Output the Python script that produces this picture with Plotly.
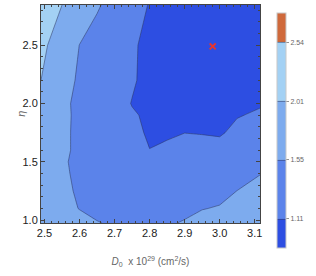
import numpy as np
import plotly.graph_objects as go

# grid coordinates
d0_values = [2.49, 2.55, 2.6, 2.65, 2.7, 2.75, 2.8, 2.85, 2.9, 2.95, 3.0, 3.05, 3.115]
eta_values = [0.975, 1.1, 1.25, 1.4, 1.5, 1.6, 1.75, 1.9, 2.0, 2.2, 2.5, 2.845]

# statistic on the grid (rows follow eta_values, columns follow d0_values)
row_0975 = [1.85, 1.76, 1.66, 1.57, 1.50, 1.46, 1.46, 1.51, 1.58, 1.65, 1.71, 1.77, 1.85]
row_1100 = [1.82, 1.66, 1.54, 1.45, 1.40, 1.37, 1.37, 1.40, 1.46, 1.54, 1.57, 1.66, 1.77]
row_1250 = [1.80, 1.64, 1.50, 1.42, 1.37, 1.33, 1.31, 1.31, 1.34, 1.40, 1.47, 1.553, 1.66]
row_1400 = [1.80, 1.61, 1.48, 1.41, 1.35, 1.30, 1.26, 1.25, 1.27, 1.31, 1.36, 1.44, 1.54]
row_1500 = [1.80, 1.59, 1.48, 1.40, 1.33, 1.26, 1.21, 1.21, 1.23, 1.27, 1.30, 1.36, 1.465]
row_1600 = [1.82, 1.61, 1.49, 1.40, 1.30, 1.21, 1.113, 1.15, 1.19, 1.22, 1.24, 1.29, 1.39]
row_1750 = [1.84, 1.62, 1.48, 1.38, 1.28, 1.17, 1.08, 1.08, 1.108, 1.096, 1.07, 1.20, 1.27]
row_1900 = [1.89, 1.63, 1.48, 1.36, 1.25, 1.135, 1.07, 1.04, 1.02, 1.03, 1.05, 1.09, 1.156]
row_2000 = [1.92, 1.63, 1.47, 1.35, 1.22, 1.10, 1.05, 1.01, 0.98, 0.96, 0.96, 1.00, 1.08]
row_2200 = [2.01, 1.70, 1.50, 1.38, 1.26, 1.14, 1.03, 0.98, 0.94, 0.91, 0.90, 0.91, 0.97]
row_2500 = [2.12, 1.80, 1.545, 1.41, 1.28, 1.15, 1.03, 0.97, 0.92, 0.88, 0.86, 0.87, 0.90]
row_2845 = [2.24, 2.01, 1.80, 1.59, 1.42, 1.26, 1.09, 1.00, 0.94, 0.90, 0.88, 0.88, 0.90]

# contour levels and colorbar labels
levels = [1.11, 1.55, 2.01, 2.54]
level_labels = ["1.11", "1.55", "2.01", "2.54"]

# best-fit point
best_d0 = [2.98]
best_eta = [2.49]

band_colors = ["#2d4ee2", "#5b83ea", "#7dabee", "#a3d1f4", "#cf693b"]

z = np.array([row_0975, row_1100, row_1250, row_1400, row_1500, row_1600,
              row_1750, row_1900, row_2000, row_2200, row_2500, row_2845])

# map values to level-index space so that non-uniform levels become uniform
lo = levels[0] - (levels[1] - levels[0])
hi = levels[-1] + (levels[-1] - levels[-2])
z_idx = np.interp(z, [lo] + levels + [hi], list(range(len(levels) + 2)))

n = len(band_colors)
colorscale = [[i / (n - 1), c] for i, c in enumerate(band_colors)]

font_family = "Liberation Sans, Arial, sans-serif"

fig = go.Figure()
fig.add_trace(go.Contour(
    x=d0_values, y=eta_values, z=z_idx,
    contours=dict(start=1, end=len(levels), size=1, coloring="fill", showlines=True),
    line=dict(color="rgba(45,55,95,0.65)", width=0.8, smoothing=0),
    colorscale=colorscale,
    colorbar=dict(
        tickmode="array",
        tickvals=[1.0, 2.0, 3.0, 4.0],
        ticktext=level_labels,
        ticks="outside", ticklen=3, tickcolor="#777", tickwidth=0.8,
        tickfont=dict(size=7, color="#666", family=font_family),
        ticklabeloverflow="allow",
        thickness=9, thicknessmode="pixels",
        len=235, lenmode="pixels",
        x=1.0776, xanchor="left", xpad=0,
        y=0.4243, yanchor="middle", ypad=0,
        outlinewidth=1, outlinecolor="#c8c8c8",
    ),
    hoverinfo="skip",
))
fig.add_trace(go.Scatter(
    x=best_d0, y=best_eta, mode="markers",
    marker=dict(symbol="x-thin", size=6, line=dict(color="#e8352b", width=2)),
    showlegend=False, hoverinfo="skip",
))

axis_common = dict(
    showline=True, linecolor="#444", linewidth=1, mirror="ticks",
    ticks="inside", ticklen=4, tickcolor="#444", tickwidth=1,
    showgrid=False, zeroline=False,
    tickfont=dict(size=11, color="#222", family=font_family),
)

fig.update_layout(
    width=316, height=276,
    margin=dict(l=41, r=56, t=5, b=53),
    paper_bgcolor="white", plot_bgcolor="white",
    showlegend=False,
    xaxis=dict(
        range=[2.49, 3.115], tickvals=[2.5, 2.6, 2.7, 2.8, 2.9, 3.0, 3.1],
        ticktext=["2.5", "2.6", "2.7", "2.8", "2.9", "3.0", "3.1"],
        minor=dict(dtick=0.02, tick0=2.5, ticks="inside", ticklen=2, tickcolor="#444"),
        title=dict(text="<i>D</i><sub>0</sub>  x 10<sup>29</sup> (cm<sup>2</sup>/s)",
                   font=dict(size=10, color="#666", family=font_family), standoff=19),
        **axis_common,
    ),
    yaxis=dict(
        range=[0.975, 2.845], tickvals=[1.0, 1.5, 2.0, 2.5],
        ticktext=["1.0", "1.5", "2.0", "2.5"],
        minor=dict(dtick=0.1, tick0=1.0, ticks="inside", ticklen=2, tickcolor="#444"),
        **axis_common,
    ),
    annotations=[dict(
        text="<i>η</i>", xref="paper", yref="paper", x=-0.092, y=0.5,
        xanchor="center", yanchor="middle", textangle=-90, showarrow=False,
        font=dict(size=11, color="#666", family=font_family),
    )],
)

fig.write_html(
    "out.html",
    config={"displayModeBar": False, "staticPlot": True},
    post_script="document.body.style.margin='0px';document.body.style.overflow='hidden';",
)
